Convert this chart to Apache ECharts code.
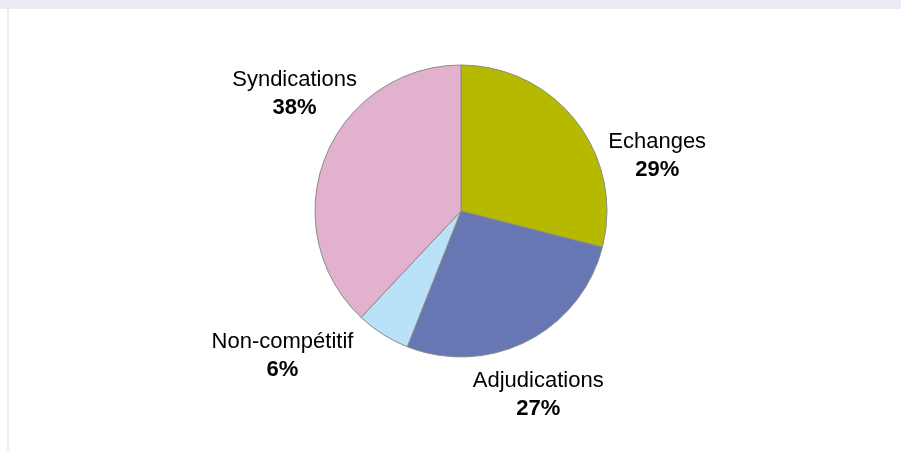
<!DOCTYPE html>
<html>
<head>
<meta charset="utf-8">
<script src="https://cdn.jsdelivr.net/npm/echarts@6/dist/echarts.min.js"></script>
<style>
html,body{margin:0;padding:0;background:#fff;}
#topband{position:absolute;left:0;top:0;width:901px;height:9px;background:#ECEBF5;}
#leftline{position:absolute;left:7px;top:9px;width:2px;height:442px;background:#ECEBF5;}
#chart{position:absolute;left:0;top:0;width:901px;height:451px;}
</style>
</head>
<body>
<div id="topband"></div>
<div id="leftline"></div>
<div id="chart"></div>
<script>
var categories = ['Echanges', 'Adjudications', 'Non-compétitif', 'Syndications'];
var values = [29, 27, 6, 38];
var colors = ['#B5BA00', '#6677B3', '#B9E1F7', '#E2B1CD'];
// label nudges (pixels) relative to the default outside position
var labelShift = [[9, 41], [-74, 45], [-9, 13], [56, -60]];

var chart = echarts.init(document.getElementById('chart'), null, {renderer: 'canvas'});
var data = categories.map(function (c, i) {
  return {name: c, value: values[i], itemStyle: {color: colors[i]}};
});
chart.setOption({
  backgroundColor: 'transparent',
  animation: false,
  series: [{
    type: 'pie',
    center: [461, 211],
    radius: 146,
    startAngle: 90,
    clockwise: true,
    data: data,
    itemStyle: {borderColor: '#8a8a8a', borderWidth: 1},
    label: {
      show: true,
      position: 'outside',
      formatter: function (p) { return '{n|' + p.name + '}\n{p|' + p.value + '%}'; },
      rich: {
        n: {fontFamily: 'Liberation Sans, Arial, sans-serif', fontSize: 22, color: '#000', lineHeight: 28, align: 'center'},
        p: {fontFamily: 'Liberation Sans, Arial, sans-serif', fontSize: 22, fontWeight: 'bold', color: '#000', lineHeight: 28, align: 'center'}
      }
    },
    labelLine: {show: false, length: 10, length2: 10},
    labelLayout: function (p) {
      var s = labelShift[p.dataIndex];
      return {dx: s[0], dy: s[1]};
    },
    emphasis: {disabled: true}
  }]
});
</script>
</body>
</html>
